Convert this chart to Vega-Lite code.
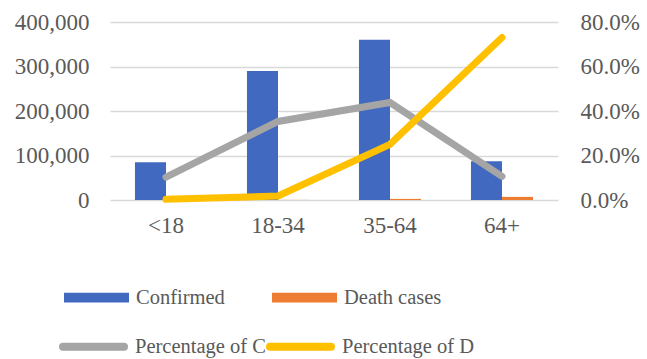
{
  "$schema": "https://vega.github.io/schema/vega-lite/v6.json",
  "width": 448,
  "height": 178,
  "autosize": {"type": "none"},
  "padding": {"left": 110, "top": 22, "right": 89, "bottom": 159},
  "background": "white",
  "datasets": {
    "counts": [
      {"age": "<18", "series": "Confirmed", "value": 85000},
      {"age": "<18", "series": "Death cases", "value": 30},
      {"age": "18-34", "series": "Confirmed", "value": 290000},
      {"age": "18-34", "series": "Death cases", "value": 250},
      {"age": "35-64", "series": "Confirmed", "value": 360000},
      {"age": "35-64", "series": "Death cases", "value": 2500},
      {"age": "64+", "series": "Confirmed", "value": 87000},
      {"age": "64+", "series": "Death cases", "value": 7000}
    ],
    "shares": [
      {"age": "<18", "series": "Percentage of C", "pct": 0.103},
      {"age": "18-34", "series": "Percentage of C", "pct": 0.353},
      {"age": "35-64", "series": "Percentage of C", "pct": 0.438},
      {"age": "64+", "series": "Percentage of C", "pct": 0.106},
      {"age": "<18", "series": "Percentage of D", "pct": 0.003},
      {"age": "18-34", "series": "Percentage of D", "pct": 0.018},
      {"age": "35-64", "series": "Percentage of D", "pct": 0.25},
      {"age": "64+", "series": "Percentage of D", "pct": 0.73}
    ]
  },
  "config": {
    "view": {"stroke": null},
    "font": "Liberation Serif",
    "axis": {
      "labelFont": "Liberation Serif",
      "labelColor": "#595959",
      "labelFontSize": 23,
      "domain": false,
      "ticks": false,
      "title": null
    },
    "legend": {
      "orient": "none",
      "direction": "horizontal",
      "columns": 2,
      "title": null,
      "labelFont": "Liberation Serif",
      "labelFontSize": 20.5,
      "labelColor": "#595959",
      "labelLimit": 300
    }
  },
  "encoding": {
    "x": {
      "field": "age",
      "type": "nominal",
      "sort": ["<18", "18-34", "35-64", "64+"],
      "scale": {"paddingInner": 0.446, "paddingOuter": 0.223},
      "axis": {"labelAngle": 0, "labelPadding": 14, "grid": false}
    }
  },
  "layer": [
    {
      "data": {"name": "counts"},
      "mark": {"type": "bar"},
      "encoding": {
        "xOffset": {
          "field": "series",
          "type": "nominal",
          "sort": ["Confirmed", "Death cases"],
          "scale": {"paddingInner": 0, "paddingOuter": 0}
        },
        "y": {
          "field": "value",
          "type": "quantitative",
          "scale": {"domain": [0, 400000], "nice": false},
          "axis": {
            "values": [0, 100000, 200000, 300000, 400000],
            "format": ",.0f",
            "labelPadding": 21,
            "grid": true,
            "gridColor": "#d9d9d9",
            "gridWidth": 1.5
          }
        },
        "color": {
          "field": "series",
          "type": "nominal",
          "scale": {
            "domain": ["Confirmed", "Death cases"],
            "range": ["#4169C0", "#ED7D31"]
          },
          "legend": {
            "legendX": -46,
            "legendY": 243,
            "symbolType": "M-1,-0.15H1V0.15H-1Z",
            "symbolSize": 4225,
            "symbolStrokeWidth": 0,
            "labelOffset": 7,
            "columnPadding": 47
          }
        }
      }
    },
    {
      "data": {"name": "shares"},
      "mark": {"type": "line", "strokeWidth": 7, "strokeCap": "round", "strokeJoin": "miter"},
      "encoding": {
        "y": {
          "field": "pct",
          "type": "quantitative",
          "scale": {"domain": [0, 0.8], "nice": false},
          "axis": {
            "orient": "right",
            "values": [0, 0.2, 0.4, 0.6, 0.8],
            "format": ".1%",
            "labelPadding": 22,
            "grid": false
          }
        },
        "color": {
          "field": "series",
          "type": "nominal",
          "scale": {
            "domain": ["Percentage of C", "Percentage of D"],
            "range": ["#A5A5A5", "#FFC000"]
          },
          "legend": {
            "legendX": -51,
            "legendY": 290,
            "symbolType": "stroke",
            "symbolSize": 3721,
            "symbolStrokeWidth": 8,
            "labelOffset": 7,
            "columnPadding": -14,
            "encode": {"symbols": {"update": {"strokeCap": {"value": "round"}}}}
          }
        },
        "detail": {"field": "series"}
      }
    }
  ],
  "resolve": {"scale": {"y": "independent", "color": "independent"}}
}
